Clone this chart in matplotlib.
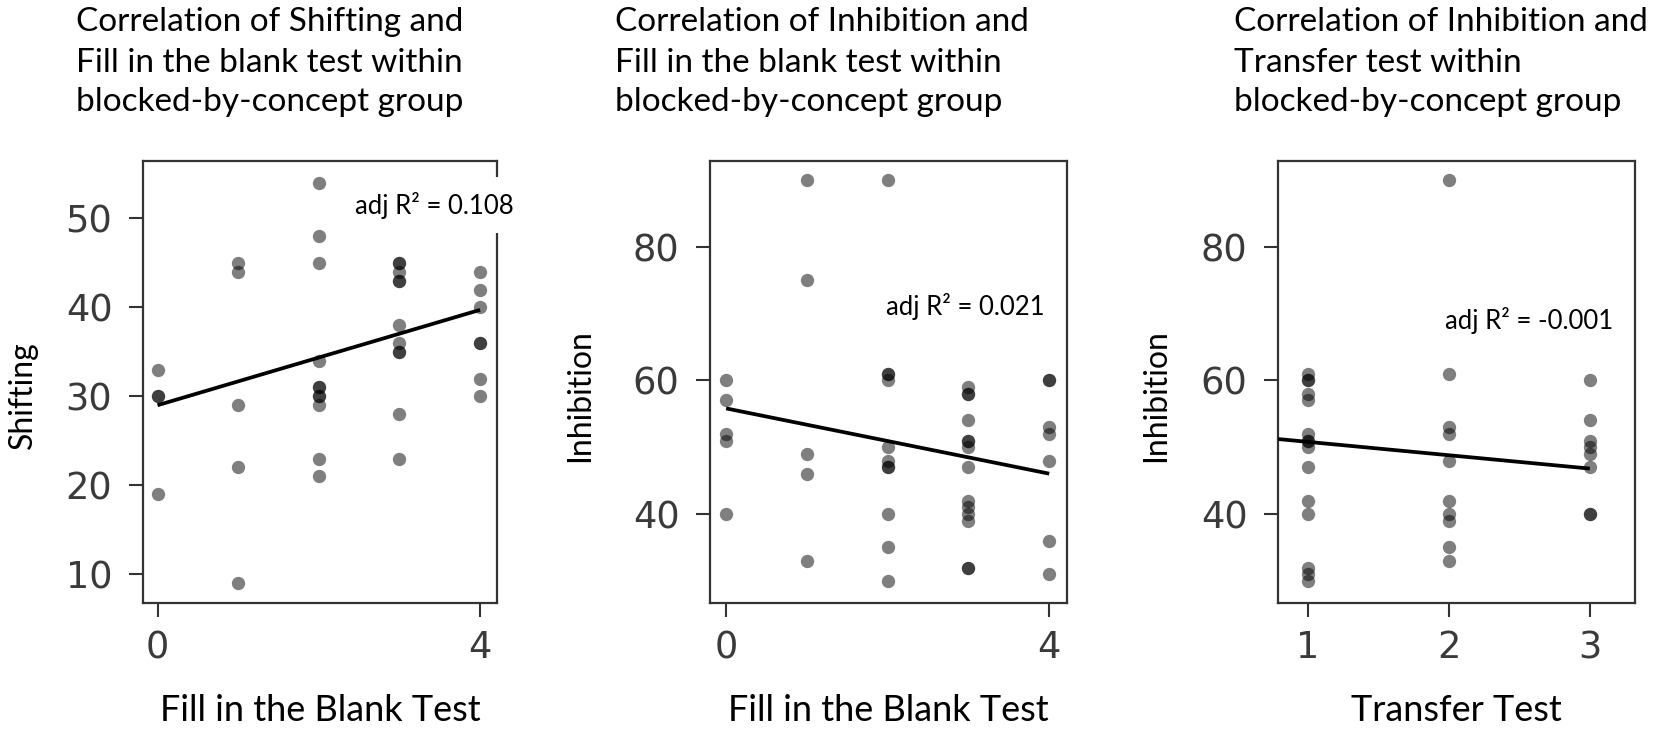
import matplotlib
matplotlib.use("Agg")
import matplotlib.pyplot as plt
import numpy as np

# ---------------- data ----------------
# Panel 1: Shifting vs Fill in the Blank Test
p1_x = [0, 0, 0, 0,
        1, 1, 1, 1, 1,
        2, 2, 2, 2, 2, 2, 2, 2, 2, 2, 2,
        3, 3, 3, 3, 3, 3, 3, 3, 3, 3, 3,
        4, 4, 4, 4, 4, 4, 4]
p1_y = [33, 30, 30, 19,
        45, 44, 29, 22, 9,
        54, 48, 45, 34, 31, 31, 30, 30, 29, 23, 21,
        45, 45, 44, 43, 43, 38, 36, 35, 35, 28, 23,
        44, 42, 40, 36, 36, 32, 30]

# Panel 2: Inhibition vs Fill in the Blank Test
p2_x = [0, 0, 0, 0, 0,
        1, 1, 1, 1, 1,
        2, 2, 2, 2, 2, 2, 2, 2, 2, 2, 2,
        3, 3, 3, 3, 3, 3, 3, 3, 3, 3, 3, 3, 3, 3,
        4, 4, 4, 4, 4, 4, 4]
p2_y = [60, 57, 52, 51, 40,
        90, 75, 49, 46, 33,
        90, 61, 61, 60, 50, 48, 47, 47, 40, 35, 30,
        59, 58, 58, 54, 51, 51, 50, 47, 42, 41, 40, 39, 32, 32,
        60, 60, 53, 52, 48, 36, 31]

# Panel 3: Inhibition vs Transfer Test
p3_x = [1] * 15 + [2] * 10 + [3] * 8
p3_y = [61, 60, 60, 58, 57, 52, 51, 51, 50, 47, 42, 40, 32, 31, 30,
        90, 61, 53, 52, 48, 42, 40, 39, 35, 33,
        60, 54, 51, 50, 49, 47, 40, 40]

# fitted lines (intercept, slope)
fit_intercept = [29.0, 55.8, 52.8]
fit_slope = [2.68, -2.44, -2.0]
fit_x_range = [(0, 4), (0, 4), (0.79, 3)]

adj_r2 = ["0.108", "0.021", "-0.001"]
r2_pos = [(2.45, 51.5), (1.98, 71.0), (1.97, 69.0)]

titles = [
    ["Correlation of Shifting and", "Fill in the blank test within", "blocked-by-concept group"],
    ["Correlation of Inhibition and", "Fill in the blank test within", "blocked-by-concept group"],
    ["Correlation of Inhibition and", "Transfer test within", "blocked-by-concept group"],
]
xlabels = ["Fill in the Blank Test", "Fill in the Blank Test", "Transfer Test"]
ylabels = ["Shifting", "Inhibition", "Inhibition"]
xticks = [[0, 4], [0, 4], [1, 2, 3]]
yticks = [[10, 20, 30, 40, 50], [40, 60, 80], [40, 60, 80]]
xlims = [(-0.18, 4.21), (-0.2, 4.22), (0.79, 3.32)]
ylims = [(6.77, 56.45), (26.7, 92.8), (26.7, 92.8)]

# ---------------- layout ----------------
W, H = 1654, 734
fig = plt.figure(figsize=(W / 100, H / 100), dpi=100)

axes_px = [(143, 497, 161, 603), (710, 1067, 161, 603), (1278, 1635, 161, 603)]
title_x_px = [76, 615, 1234]
title_y_px = [22, 63, 102]
ylabel_xfrac = [-0.339, -0.364, -0.342]

TXT = ["Lato", "DejaVu Sans"]
spine_c = "#333333"
tick_c = "#3a3a3a"

data = [(p1_x, p1_y), (p2_x, p2_y), (p3_x, p3_y)]

for i in range(3):
    l, r, t, b = axes_px[i]
    ax = fig.add_axes([l / W, 1 - b / H, (r - l) / W, (b - t) / H])
    x, y = data[i]
    ax.scatter(x, y, s=92, color="black", alpha=0.5, linewidths=0, zorder=2)
    xs = np.array(fit_x_range[i], dtype=float)
    ax.plot(xs, fit_intercept[i] + fit_slope[i] * xs, color="black", lw=2.7,
            solid_capstyle="butt", zorder=3)
    ax.set_xlim(*xlims[i])
    ax.set_ylim(*ylims[i])
    ax.set_xticks(xticks[i])
    ax.set_yticks(yticks[i])
    ax.tick_params(axis="both", labelsize=26.5, labelcolor=tick_c, color=spine_c,
                   width=1.5, length=10)
    ax.tick_params(axis="x", pad=9)
    ax.tick_params(axis="y", pad=12)
    for sp in ax.spines.values():
        sp.set_color(spine_c)
        sp.set_linewidth(1.6)
        sp.set_zorder(2.5)
    ax.set_xlabel(xlabels[i], fontsize=26, family=TXT, color="black")
    ax.xaxis.set_label_coords(0.5, -0.205)
    ax.xaxis.label.set_va("top")
    ax.set_ylabel(ylabels[i], fontsize=23, family=TXT, color="black")
    ax.yaxis.label.set_va("center")
    ax.yaxis.set_label_coords(ylabel_xfrac[i], 0.47)

    tx, ty = r2_pos[i]
    ax.text(tx, ty, "adj R² = " + adj_r2[i], fontsize=18.5, family=TXT,
            ha="left", va="center", zorder=6, clip_on=False,
            bbox=dict(boxstyle="square,pad=0.55", facecolor="white", edgecolor="none"))

    for j, line in enumerate(titles[i]):
        fig.text(title_x_px[i] / W, 1 - title_y_px[j] / H, line, fontsize=24,
                 family=TXT, ha="left", va="center", color="black")

fig.savefig("out.png", dpi=100, facecolor="white")
